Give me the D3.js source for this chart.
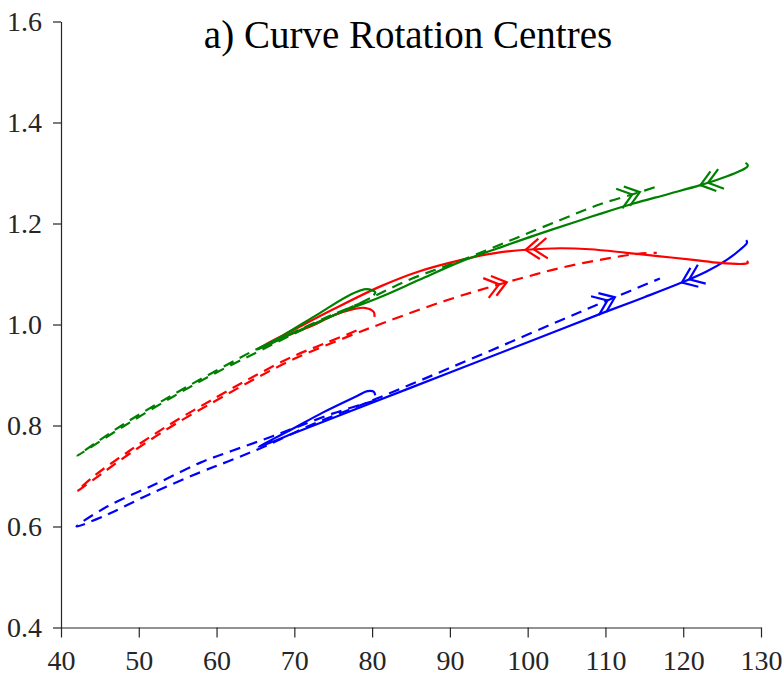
<!DOCTYPE html>
<html><head><meta charset="utf-8">
<script src="https://cdn.jsdelivr.net/npm/d3@7"></script>
<style>body{margin:0;background:#fff} svg{display:block} text{font-family:"Liberation Serif","Times New Roman",Times,Tinos,"DejaVu Serif","Noto Serif","Nimbus Roman","Nimbus Roman No9 L",FreeSerif,Georgia,serif;}</style>
</head><body><svg id="c" width="783" height="676"></svg>
<script>
const titleText = "a) Curve Rotation Centres";
const xTicks = [40,50,60,70,80,90,100,110,120,130];
const yTicks = [0.4,0.6,0.8,1.0,1.2,1.4,1.6];

const blueDashX = [80.5,75,70,66,62,58,52.3,46,42, 46,51.4,58,62,66.4,72,78,84,90,97,104.2,110,117];
const blueDashY = [0.850,0.824,0.795,0.772,0.750,0.727,0.685,0.640,0.600, 0.624,0.664,0.708,0.732,0.760,0.800,0.837,0.875,0.914,0.960,1.008,1.046,1.091];
const blueSolidX = [80.4,80.2,79.4,78,73.7,69.4,65.4, 70,80,90,100,110,115,119.8,123,125.5,127.3,128.2,128.1];
const blueSolidY = [0.860,0.867,0.868,0.858,0.826,0.790,0.758, 0.785,0.845,0.905,0.965,1.025,1.054,1.083,1.105,1.127,1.148,1.162,1.167];
const redDashX = [78,74,70,65,60,54.4,48.9,44.1,42.1, 44.1,48.9,54.4,60,65,70,75.9,81.6,89.6,96,100,104.2,110,114.2,116.6];
const redDashY = [0.988,0.963,0.938,0.899,0.856,0.806,0.751,0.698,0.670, 0.692,0.745,0.800,0.850,0.893,0.932,0.970,1.004,1.048,1.078,1.095,1.112,1.130,1.140,1.142];
const redSolidX = [80.3,80.2,79.0,77.2,75,72.8,69,65.4, 70,75,81,86,91.5,96,99.8,104.2,108,112.7,117,121.3,124.7,127.7,128.3,128.2];
const redSolidY = [1.015,1.025,1.033,1.029,1.018,1.001,0.977,0.953, 0.990,1.030,1.075,1.105,1.128,1.142,1.148,1.151,1.149,1.142,1.135,1.128,1.122,1.120,1.122,1.126];
const greenDashX = [79,75,70,65,60,54.4,48,42.1, 48,54.4,60,65.2,70,78.4,85,91.3,98,104.2,109.3,114.4,116.4];
const greenDashY = [1.045,1.020,0.985,0.950,0.909,0.861,0.802,0.740, 0.798,0.857,0.905,0.945,0.982,1.042,1.090,1.126,1.168,1.207,1.238,1.262,1.272];
const greenSolidX = [80.2,80.4,79.3,77.2,72.9,68.6,65.3, 70,75,81,86,91.3,96,101,106.5,109.3,113.5,118,122.2,125,127,128.2,128.3,128.0];
const greenSolidY = [1.058,1.064,1.070,1.059,1.019,0.979,0.950, 0.984,1.018,1.054,1.088,1.124,1.150,1.177,1.205,1.219,1.239,1.258,1.276,1.290,1.302,1.312,1.316,1.320];

const seriesNames = ["blueDash","blueSolid","redDash","redSolid","greenDash","greenSolid"];
const seriesColors = ["#0000ff","#0000ff","#ff0000","#ff0000","#008000","#008000"];
const seriesDashed = [true,false,true,false,true,false];
const seriesXs = [blueDashX,blueSolidX,redDashX,redSolidX,greenDashX,greenSolidX];
const seriesYs = [blueDashY,blueSolidY,redDashY,redSolidY,greenDashY,greenSolidY];

const arrowSeries = ["greenDash","greenSolid","redSolid","redDash","blueDash","blueSolid"];
const arrowX = [114.4,122.2,99.7,97.3,111.2,119.8];
const arrowDir = [1,-1,-1,1,1,-1];

const svg = d3.select("#c");
const x = d3.scaleLinear().domain([40,130]).range([61,761]);
const y = d3.scaleLinear().domain([0.4,1.6]).range([627.5,21.5]);
const axisColor = "#262626";

const gx = svg.append("g").attr("transform",`translate(0,${y(0.4)})`)
  .call(d3.axisBottom(x).tickValues(xTicks).tickSize(10).tickSizeOuter(0).tickPadding(13).tickFormat(d3.format("d")));
const gy = svg.append("g").attr("transform",`translate(${x(40)},0)`)
  .call(d3.axisLeft(y).tickValues(yTicks).tickSize(8).tickSizeOuter(0).tickPadding(11).tickFormat(d3.format(".1f")));
[gx,gy].forEach(g=>{
  g.attr("font-family",null).attr("font-size",28);
  g.selectAll("path,line").attr("stroke",axisColor).attr("stroke-width",1.2);
  g.selectAll("text").attr("fill",axisColor);
});

svg.append("text").attr("x",408).attr("y",48).attr("text-anchor","middle")
  .attr("font-size",39).attr("fill","#000").text(titleText);

const line = d3.line().x(d=>x(d[0])).y(d=>y(d[1])).curve(d3.curveCatmullRom.alpha(0.5));
const paths = {};
seriesNames.forEach((n,i)=>{
  const pts = seriesXs[i].map((v,j)=>[v,seriesYs[i][j]]);
  paths[n] = svg.append("path").attr("d",line(pts)).attr("fill","none")
    .attr("stroke",seriesColors[i]).attr("stroke-width",2.2)
    .attr("stroke-dasharray",seriesDashed[i]?"11,7":null)
    .attr("stroke-linejoin","round");
});

arrowSeries.forEach((n,k)=>{
  const i = seriesNames.indexOf(n);
  const p = paths[n].node();
  const L = p.getTotalLength();
  let minX=Infinity, minL=0;
  for(let l=0;l<=L;l+=0.5){const q=p.getPointAtLength(l); if(q.x<minX){minX=q.x;minL=l;}}
  const tx = x(arrowX[k]);
  let at = minL;
  for(let l=minL;l<=L;l+=0.25){const q=p.getPointAtLength(l); if(q.x>=tx){at=l;break;}}
  const a=p.getPointAtLength(Math.max(0,at-3)), b=p.getPointAtLength(Math.min(L,at+3));
  let dx=b.x-a.x, dy=b.y-a.y; const m=Math.hypot(dx,dy); dx/=m; dy/=m;
  dx*=arrowDir[k]; dy*=arrowDir[k];
  const c=p.getPointAtLength(at);
  const arm=17, th=37*Math.PI/180, sp=8;
  const g = svg.append("g").attr("stroke",seriesColors[i]).attr("stroke-width",2.2).attr("fill","none");
  [0,sp].forEach(off=>{
    const px=c.x-dx*off, py=c.y-dy*off;
    const r=(ang)=>[-(dx*Math.cos(ang)-dy*Math.sin(ang)),-(dx*Math.sin(ang)+dy*Math.cos(ang))];
    const u=r(th), v=r(-th);
    g.append("path").attr("d",`M${px+u[0]*arm},${py+u[1]*arm}L${px},${py}L${px+v[0]*arm},${py+v[1]*arm}`);
  });
});
</script></body></html>
